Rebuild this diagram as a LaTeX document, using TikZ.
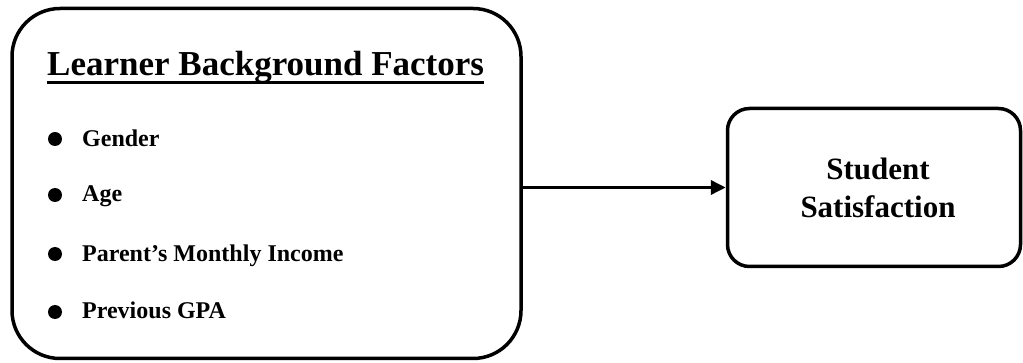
\documentclass[tikz,border=0pt]{standalone}
\usepackage{fontspec}
\setmainfont{Liberation Serif}
\usetikzlibrary{arrows.meta}
\begin{document}
\begin{tikzpicture}[x=1pt,y=-1pt,
  boxstyle/.style={draw=black, line width=3.5pt, inner sep=0pt},
  itemtext/.style={anchor=base west, inner sep=0pt, font=\fontsize{24}{28}\selectfont\bfseries},
  bulletdot/.style={circle, fill=black, inner sep=0pt, minimum size=14pt},
  conn/.style={line width=3.5pt, -{Triangle[length=15pt,width=14pt]}}]
\useasboundingbox (0,0) rectangle (1023,363);
\node[boxstyle, rounded corners=48pt, minimum width=509pt, minimum height=350pt] (left) at (266.5,183.5) {};
\node[boxstyle, rounded corners=22pt, minimum width=293pt, minimum height=158pt] (right) at (874,187.5) {};
\node[anchor=base west, inner sep=0pt, font=\fontsize{35}{40}\selectfont\bfseries] (title) at (47,76) {Learner Background Factors};
\draw[line width=3pt] ([yshift=-7pt]title.base west) -- ([yshift=-7pt]title.base east);
\node[bulletdot] (b1) at (55,139) {};
\node[itemtext] (i1) at (82,147) {Gender};
\node[bulletdot] (b2) at (55,195) {};
\node[itemtext] (i2) at (82,202) {Age};
\node[bulletdot] (b3) at (55,254) {};
\node[itemtext] (i3) at (82,262) {Parent’s Monthly Income};
\node[bulletdot] (b4) at (55,312) {};
\node[itemtext] (i4) at (82,319) {Previous GPA};
\node[align=center, inner sep=0pt, font=\fontsize{31}{38}\selectfont\bfseries] (sat) at (878,188) {Student\\Satisfaction};
\draw[conn] (left.east |- right.west) -- (right.west);
\end{tikzpicture}
\end{document}
